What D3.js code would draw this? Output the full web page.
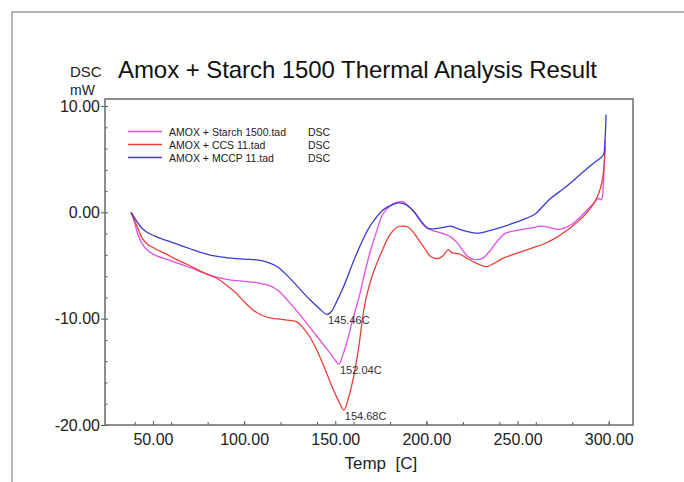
<!DOCTYPE html>
<html>
<head>
<meta charset="utf-8">
<script src="https://cdn.jsdelivr.net/npm/d3@7"></script>
<style>
	body { margin: 0; background: #fff; }
	svg text { font-family: "Liberation Sans", Arial, sans-serif; }
</style>
</head>
<body>
<div id="chart"></div>
<script>
/* series: [temperature C, heat flow mW] */
const starchData = [
	[38, 0], [40, -1.0], [42, -2.2], [45, -3.2], [48, -3.7], [52, -4.1], [58, -4.45], [64, -4.8],
	[72, -5.3], [78, -5.7], [85, -6.1], [92, -6.35], [100, -6.5], [108, -6.65], [114, -6.9],
	[119, -7.4], [124, -8.3], [130, -9.5], [136, -10.8], [142, -12.1], [147, -13.2], [150, -13.9],
	[152, -14.3], [154, -13.5], [157, -11.8], [160, -9.8], [163, -8.0], [166, -5.8], [169, -3.8],
	[173, -1.6], [176, -0.2], [180, 0.6], [184, 0.95], [187, 1.0], [190, 0.6], [193, 0.1],
	[197, -0.9], [200, -1.45], [205, -1.8], [210, -2.05], [214, -2.4], [217, -2.9], [220, -3.6],
	[223, -4.2], [227, -4.45], [231, -4.3], [234, -3.8], [238, -2.9], [243, -2.0], [248, -1.75],
	[253, -1.6], [258, -1.45], [263, -1.3], [268, -1.45], [272, -1.6], [276, -1.45], [280, -1.1],
	[284, -0.5], [288, 0.2], [292, 0.9], [294, 1.3], [296, 1.2], [297, 2.6], [298, 6.8]
];
const ccsData = [
	[38, 0], [41, -1.2], [44, -2.4], [47, -3.0], [51, -3.4], [57, -3.9], [63, -4.45], [70, -5.0],
	[78, -5.7], [85, -6.2], [90, -6.8], [95, -7.5], [100, -8.4], [105, -9.2], [110, -9.7],
	[115, -9.95], [120, -10.05], [125, -10.15], [129, -10.3], [132, -10.8], [136, -11.7],
	[140, -13.0], [144, -14.6], [148, -16.3], [152, -17.8], [154.7, -18.6], [157, -17.6],
	[160, -15.5], [163, -12.5], [165, -9.9], [167, -8.0], [170, -6.1], [174.5, -4.1], [180, -2.1],
	[184, -1.4], [187, -1.3], [190, -1.4], [192, -1.7], [195, -2.4], [199, -3.4], [202, -4.1],
	[206, -4.35], [209, -4.1], [212, -3.5], [214, -3.8], [218, -3.9], [222, -4.3], [227, -4.75],
	[233, -5.1], [237, -4.8], [241, -4.4], [247, -4.0], [253, -3.65], [259, -3.3], [264, -3.0],
	[270, -2.5], [275, -1.95], [280, -1.3], [286, -0.4], [290, 0.4], [293, 1.2], [295.5, 2.3],
	[297, 3.6], [298, 6.2]
];
const mccpData = [
	[38, 0], [41, -0.8], [44, -1.5], [47, -1.9], [52, -2.3], [60, -2.8], [70, -3.4], [81, -4.0],
	[90, -4.25], [100, -4.4], [108, -4.5], [113, -4.7], [118, -5.1], [124, -6.0], [130, -7.1],
	[136, -8.2], [141, -9.0], [145.5, -9.6], [148, -9.3], [151, -8.3], [155, -6.8], [160, -4.6],
	[164, -3.0], [168, -1.6], [172, -0.6], [176, 0.2], [181, 0.7], [185, 0.9], [189, 0.7],
	[193, 0.1], [197, -0.8], [201, -1.5], [206, -1.5], [210, -1.4], [213, -1.3], [216, -1.45],
	[220, -1.7], [225, -1.9], [229, -1.95], [234, -1.75], [240, -1.45], [248, -1.0], [255, -0.55],
	[260, -0.1], [264, 0.6], [268, 1.3], [275, 2.2], [282, 3.2], [288, 4.1], [293, 4.8],
	[297, 5.4], [298, 7.0], [298.5, 9.2]
];

const seriesNames = ["AMOX + Starch 1500.tad", "AMOX + CCS 11.tad", "AMOX + MCCP 11.tad"];
const seriesColors = ["#df4fe3", "#e8403a", "#3b3bd2"];

/* peak labels: [temperature, value, text] */
const peakLabels = [
	[145.46, -9.6, "145.46C"],
	[152.04, -14.3, "152.04C"],
	[154.68, -18.6, "154.68C"]
];

const xMajorTicks = [50, 100, 150, 200, 250, 300];
const xMinorTicks = [40, 60, 80, 100, 120, 140, 160, 180, 200, 220, 240, 260, 280, 300];
const yMajorTicks = [10, 0, -10, -20];
const yMinorTicks = [8, 6, 4, 2, -2, -4, -6, -8, -12, -14, -16, -18];

const width = 684, height = 482;
const plot = { left: 105, right: 633, top: 99, bottom: 425 };

const svg = d3.select("#chart").append("svg")
	.attr("width", width)
	.attr("height", height);

svg.append("rect").attr("width", width).attr("height", height).attr("fill", "#fff");

/* outer window frame (left + top edge only visible) */
svg.append("path")
	.attr("d", `M12,${height}V12H${width}`)
	.attr("fill", "none")
	.attr("stroke", "#a0a0a0")
	.attr("stroke-width", 1.5);

const x = d3.scaleLinear().domain([23.7, 313.3]).range([plot.left, plot.right]);
const y = d3.scaleLinear().domain([-20, 10.66]).range([plot.bottom, plot.top]);

const fmt = d => d.toFixed(2);

/* title block */
svg.append("text")
	.attr("x", 70).attr("y", 77)
	.attr("font-size", 15)
	.attr("fill", "#222")
	.text("DSC");
svg.append("text")
	.attr("x", 70).attr("y", 95)
	.attr("font-size", 14)
	.attr("fill", "#222")
	.text("mW");
svg.append("text")
	.attr("x", 118).attr("y", 78)
	.attr("font-size", 24)
	.attr("fill", "#111")
	.attr("textLength", 479)
	.text("Amox + Starch 1500 Thermal Analysis Result");

/* axes */
const styleAxis = g => {
	g.select(".domain").remove();
	g.selectAll("line").attr("stroke", "#555");
	g.selectAll("text")
		.attr("font-size", 16)
		.attr("fill", "#222")
		.attr("font-family", "Liberation Sans, Arial, sans-serif");
};

svg.append("g")
	.attr("transform", `translate(0,${plot.bottom})`)
	.call(d3.axisBottom(x).tickValues(xMinorTicks).tickSize(-3).tickFormat(""))
	.call(styleAxis);
svg.append("g")
	.attr("transform", `translate(0,${plot.bottom})`)
	.call(d3.axisBottom(x).tickValues(xMajorTicks).tickSize(-4).tickPadding(9).tickFormat(fmt))
	.call(styleAxis);

svg.append("g")
	.attr("transform", `translate(${plot.left},0)`)
	.call(d3.axisLeft(y).tickValues(yMinorTicks).tickSize(-2.5).tickFormat(""))
	.call(styleAxis);
svg.append("g")
	.attr("transform", `translate(${plot.left},0)`)
	.call(d3.axisLeft(y).tickValues(yMajorTicks).tickSize(4).tickPadding(1).tickFormat(fmt))
	.call(styleAxis);
svg.append("g")
	.attr("transform", `translate(${plot.left},0)`)
	.call(d3.axisLeft(y).tickValues(yMajorTicks).tickSize(-3).tickFormat(""))
	.call(styleAxis);

/* plot frame */
svg.append("rect")
	.attr("x", plot.left).attr("y", plot.top)
	.attr("width", plot.right - plot.left)
	.attr("height", plot.bottom - plot.top)
	.attr("fill", "none")
	.attr("stroke", "#6a6a6a")
	.attr("stroke-width", 1.5);

svg.append("text")
	.attr("x", (x(50) + x(300)) / 2 + 0)
	.attr("y", 469)
	.attr("text-anchor", "middle")
	.attr("font-size", 17)
	.attr("fill", "#222")
	.attr("xml:space", "preserve")
	.text("Temp  [C]");

/* curves */
const line = d3.line()
	.x(d => x(d[0]))
	.y(d => y(d[1]))
	.curve(d3.curveCatmullRom.alpha(0.5));

[starchData, ccsData, mccpData].forEach((data, i) => {
	svg.append("path")
		.datum(data)
		.attr("d", line)
		.attr("fill", "none")
		.attr("stroke", seriesColors[i])
		.attr("stroke-width", 1.3)
		.attr("stroke-linejoin", "round");
});

/* peak annotations */
svg.selectAll(".peak")
	.data(peakLabels)
	.enter()
		.append("text")
			.attr("class", "peak")
			.attr("x", d => x(d[0]) + 1)
			.attr("y", d => y(d[1]) + 10)
			.attr("font-size", 11)
			.attr("fill", "#333")
			.text(d => d[2]);

/* legend */
const legend = svg.append("g").attr("transform", "translate(128,131)");
seriesNames.forEach((name, i) => {
	const row = legend.append("g").attr("transform", `translate(0,${i * 13})`);
	row.append("line")
		.attr("x1", 0).attr("x2", 34)
		.attr("y1", 0.5).attr("y2", 0.5)
		.attr("stroke", seriesColors[i])
		.attr("stroke-width", 1.4);
	row.append("text")
		.attr("x", 41).attr("y", 4.5)
		.attr("font-size", 10.5)
		.attr("fill", "#222")
		.text(name);
	row.append("text")
		.attr("x", 180).attr("y", 4.5)
		.attr("font-size", 10.5)
		.attr("fill", "#222")
		.text("DSC");
});
</script>
</body>
</html>
